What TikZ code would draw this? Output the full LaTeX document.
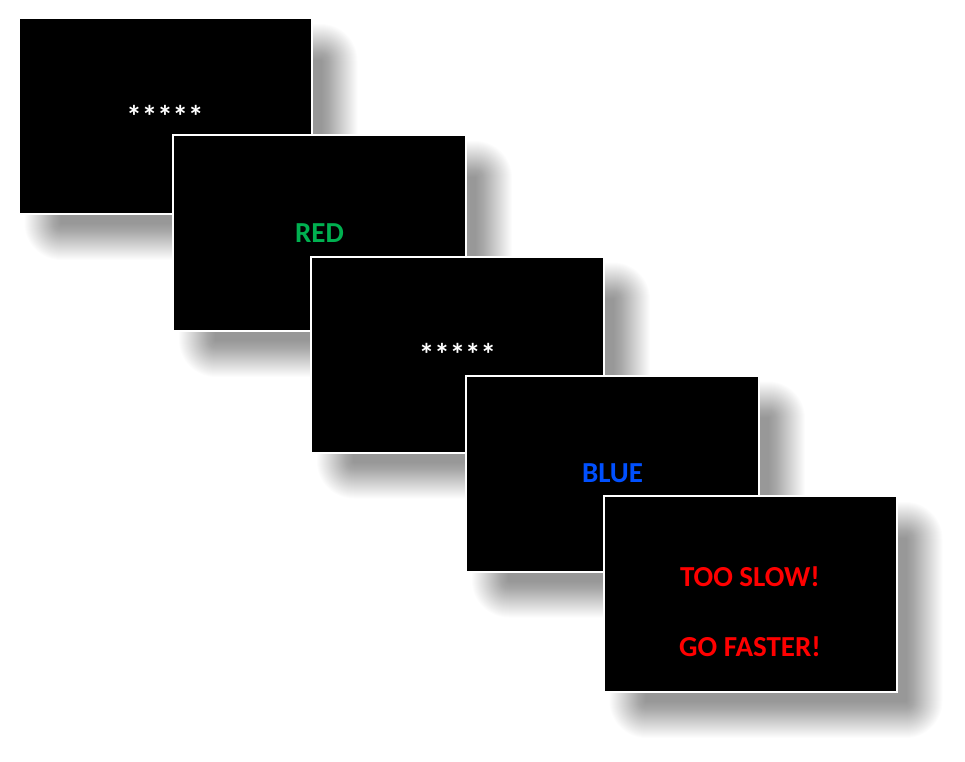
\documentclass[tikz,border=0pt]{standalone}
\usepackage{fontspec}
\setmainfont{Carlito}
\usepackage{xcolor}
\usepackage{tikz}
\usetikzlibrary{positioning,calc}

\definecolor{stimgreen}{HTML}{00B050}
\definecolor{stimblue}{HTML}{0050FF}
\definecolor{stimred}{HTML}{FF0000}

% soft drop shadow behind a slide, #1,#2 = slide centre
\newcommand{\slideshadow}[2]{%
  \foreach \k in {0,...,36}{
    \pgfmathsetmacro{\r}{37-\k}
    \fill[black,opacity=0.013,rounded corners=\r pt]
      (#1-140.5+\k,#2-92+\k) rectangle (#1+192.5-\k,#2+144-\k);
  }}

\begin{document}
\begin{tikzpicture}[x=1pt,y=-1pt,
    slide/.style={draw=white,fill=black,line width=2pt,
      minimum width=293pt,minimum height=196pt,inner sep=0pt,outer sep=0pt,
      text=white,font=\bfseries\fontsize{29}{34}\selectfont},
    slidetext/.style={inner sep=0pt,font=\bfseries\fontsize{29}{34}\selectfont},
    fixation/.style={slide,font=\bfseries\fontsize{31}{34}\selectfont}]
  \useasboundingbox[fill=white] (0,0) rectangle (965,761);

  \slideshadow{165}{116}
  \node[fixation] (fix1) at (165,116) {*****};

  \slideshadow{319.5}{233}
  \node[slide,text=stimgreen] (red) at (319.5,233) {RED};

  \slideshadow{457.5}{354.5}
  \node[fixation] (fix2) at (457.5,354.5) {*****};

  \slideshadow{612.5}{473.5}
  \node[slide,text=stimblue] (blue) at (612.5,473.5) {BLUE};

  \slideshadow{750}{594}
  \node[slide] (feedback) at (750,594) {};
  \node[slidetext,text=stimred] (slow) at (750,577) {TOO SLOW!};
  \node[slidetext,text=stimred] (faster) at (750,647) {GO FASTER!};
\end{tikzpicture}
\end{document}
